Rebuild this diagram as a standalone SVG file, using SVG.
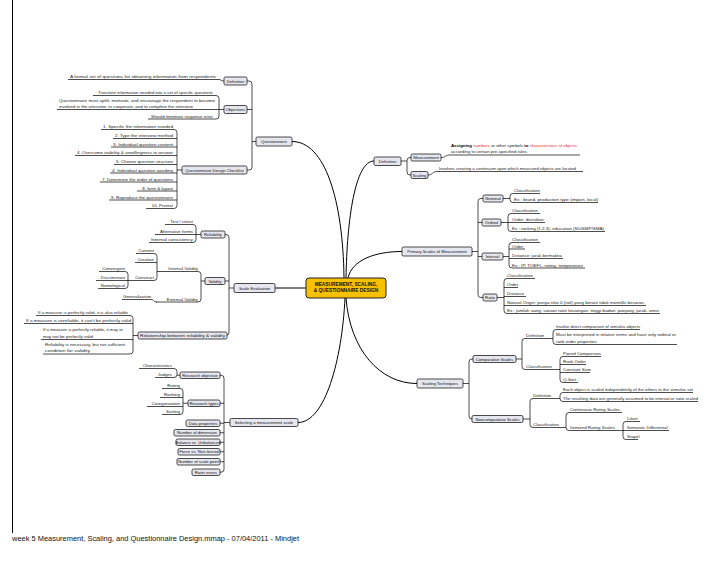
<svg xmlns="http://www.w3.org/2000/svg" width="728" height="563" viewBox="0 0 728 563">
<style>
.b{fill:#E6E6EF;stroke:#000;stroke-width:0.7}
.ct{fill:#F5C100;stroke:#222;stroke-width:1}
.t{font-family:"Liberation Sans",Arial,sans-serif;font-size:4.4px;fill:#222}
.bt{font-family:"Liberation Sans",Arial,sans-serif;font-size:4.2px;fill:#111;text-anchor:middle}
.e{text-anchor:end}
.r{fill:#E03030}
.k{font-weight:bold;fill:#000}
.c{fill:none;stroke:#000;stroke-width:0.7}
.m{fill:none;stroke:#000;stroke-width:1}
.ctt{font-family:"Liberation Sans",Arial,sans-serif;font-size:4.8px;font-weight:bold;fill:#111;text-anchor:middle}
.f{font-family:"Liberation Sans",Arial,sans-serif;font-size:7px;fill:#111}
</style>
<rect width="728" height="563" fill="#fff"/>
<line x1="12.5" y1="0" x2="12.5" y2="533" stroke="#000" stroke-width="1"/>
<text class="f" x="12" y="541" textLength="287" lengthAdjust="spacingAndGlyphs">week 5 Measurement, Scaling, and Questionnaire Design.mmap - 07/04/2011 - Mindjet</text>

<g id="connectors">
<!-- main -->
<path class="m" d="M292 141.5 C325 141.5 343 200 344 278"/>
<path class="m" d="M374 161 C355 161 347 220 346 278"/>
<path class="m" d="M402 251.5 C375 251.5 352 260 348 278"/>
<path class="m" d="M346 298 C350 350 380 383.5 417 383.5"/>
<path class="m" d="M298 422.5 C325 422.5 342 360 345 298"/>
<path class="m" d="M275 288 L306 288"/>
<!-- questionnaire -->
<path class="c" d="M247 81 L249 81 Q252 81 252 84 L252 167 Q252 170 249 170 L247 170 M247 109.5 L252 109.5 M252 141.5 L256 141.5"/>
<path class="c" d="M68 79.5 L219 79.5 C221 79.5 221 81 224 81"/>
<path class="c" d="M93 95.5 L216 95.5 Q219 95.5 219 98.5 L219 116 Q219 119 216 119 L148 119 M57 109.5 L224 109.5"/>
<path class="c" d="M101 129.5 L174 129.5 Q177 129.5 177 132.5 L177 205.5 Q177 208.5 174 208.5 L146 208.5 M113 138.5 L177 138.5 M111 147 L177 147 M75 155.5 L177 155.5 M114 164.5 L177 164.5 M110 173 L177 173 M100 182 L177 182 M137 191 L177 191 M109 200 L177 200 M177 170 L182 170"/>
<!-- scale evaluation -->
<path class="c" d="M225 234.5 L226 234.5 Q229 234.5 229 237.5 L229 332.5 Q229 335.5 226 335.5 M225 281 L229 281 M229 288 L234 288"/>
<path class="c" d="M165 224.5 L193 224.5 Q196 224.5 196 227.5 L196 239.5 Q196 242.5 193 242.5 L149 242.5 M155 234.5 L201 234.5"/>
<path class="c" d="M157 271.5 L198 271.5 Q201 271.5 201 274.5 L201 299 Q201 302 198 302 L156 302 M201 281 L205 281"/>
<path class="c" d="M136 253.5 L154 253.5 Q157 253.5 157 256.5 L157 277.5 Q157 280.5 154 280.5 L128 280.5 M135 262.5 L157 262.5"/>
<path class="c" d="M99 271.5 L125 271.5 Q128 271.5 128 274.5 L128 285.5 Q128 288.5 125 288.5 L98 288.5 M96 280.5 L128 280.5"/>
<path class="c" d="M122 299.5 L151 299.5 C154 299.5 153 302 157 302"/>
<path class="c" d="M36 315.5 L130 315.5 Q133 315.5 133 318.5 L133 351 Q133 354 130 354 L43 354 M24 323.5 L133 323.5 M41 339.5 L133 339.5 M133 335.5 L138 335.5"/>
<!-- selecting -->
<path class="c" d="M220 375.25 L221 375.25 Q224 375.25 224 378.25 L224 469.25 Q224 472.25 221 472.25 L220 472.25 M220 403.25 L224 403.25 M220 423.25 L224 423.25 M220 432.75 L224 432.75 M220 442.25 L224 442.25 M220 451.75 L224 451.75 M220 461.75 L224 461.75 M224 422.5 L230 422.5"/>
<path class="c" d="M139 368.5 L174 368.5 Q177 368.5 177 371.5 L177 374.5 Q177 377.5 174 377.5 L155 377.5 M177 375.25 L180 375.25"/>
<path class="c" d="M162 388.5 L180 388.5 Q183 388.5 183 391.5 L183 411.5 Q183 414.5 180 414.5 L162 414.5 M160 397.5 L183 397.5 M147 406.5 L183 406.5 M183 403.25 L188 403.25"/>
<!-- definition right -->
<path class="c" d="M401 161 L407 161 M411 157.5 L410 157.5 Q407 157.5 407 160.5 L407 172 Q407 175 410 175 L411 175"/>
<path class="c" d="M441 157.5 C446 157.5 445 155 450 155 L580 155"/>
<path class="c" d="M428 175 C433 175 432 171.5 437 171.5 L583 171.5"/>
<!-- primary scales -->
<path class="c" d="M472 251.5 L478 251.5 M483 198.5 L481 198.5 Q478 198.5 478 201.5 L478 294.5 Q478 297.5 481 297.5 L483 297.5 M478 222.5 L482 222.5 M478 256.5 L482 256.5"/>
<path class="c" d="M503 198.5 L510 198.5 M540 193.5 L513 193.5 Q510 193.5 510 196.5 L510 199.5 Q510 202.5 513 202.5 L598 202.5"/>
<path class="c" d="M501 222.5 L545 222.5 M540 213.5 L511 213.5 Q508 213.5 508 216.5 L508 228.5 Q508 231.5 511 231.5 L605 231.5"/>
<path class="c" d="M503 256.5 L509 256.5 M540 242.5 L512 242.5 Q509 242.5 509 245.5 L509 265 Q509 268 512 268 L585 268 M509 249 L525 249 M509 258.5 L563 258.5"/>
<path class="c" d="M497 297.5 L504 297.5 M535 278.5 L507 278.5 Q504 278.5 504 281.5 L504 310.5 Q504 313.5 507 313.5 L660 313.5 M504 287.5 L518 287.5 M504 296.5 L526 296.5 M504 305.5 L646 305.5"/>
<!-- scaling techniques -->
<path class="c" d="M463 383.5 L469 383.5 M473 359 L472 359 Q469 359 469 362 L469 416 Q469 419 472 419"/>
<path class="c" d="M516 359 L522 359 M553 338.5 L525 338.5 Q522 338.5 522 341.5 L522 366.5 Q522 369.5 525 369.5 L560 369.5"/>
<path class="c" d="M640 329.5 L556 329.5 Q553 329.5 553 332.5 L553 341.5 Q553 344.5 556 344.5 L677 344.5"/>
<path class="c" d="M601 356.5 L563 356.5 Q560 356.5 560 359.5 L560 379.5 Q560 382.5 563 382.5 L578 382.5 M560 364.5 L586 364.5 M560 372.5 L590 372.5"/>
<path class="c" d="M523 419 L530 419 M560 398.5 L533 398.5 Q530 398.5 530 401.5 L530 424.5 Q530 427.5 533 427.5 L566 427.5"/>
<path class="c" d="M693 392.5 L563 392.5 Q560 392.5 560 395.5 L560 398.5 Q560 401.5 563 401.5 L698 401.5"/>
<path class="c" d="M622 412.5 L569 412.5 Q566 412.5 566 415.5 L566 427.5 Q566 430.5 569 430.5 L669 430.5"/>
<path class="c" d="M640 421.5 L626 421.5 Q623 421.5 623 424.5 L623 436.5 Q623 439.5 626 439.5 L638 439.5"/>
</g>

<g id="central">
<rect class="ct" x="306" y="278" width="80" height="20" rx="3"/>
<text class="ctt" x="346" y="286">MEASUREMENT, SCALING,</text>
<text class="ctt" x="346" y="292">&amp; QUESTIONNAIRE DESIGN</text>
</g>

<g id="questionnaire">
<rect class="b" x="256" y="137" width="36" height="9" rx="1.5"/><text class="bt" x="274" y="143">Questionnaire</text>
</g>
<g id="q-definition">
<rect class="b" x="224" y="77" width="23" height="8" rx="1.5"/><text class="bt" x="235.5" y="82.5">Definition</text>
<text class="t e" x="216" y="78" textLength="146" lengthAdjust="spacingAndGlyphs">A formal set of questions for obtaining information from respondents</text>
</g>
<g id="q-objectives">
<rect class="b" x="224" y="105.5" width="23" height="8" rx="1.5"/><text class="bt" x="235.5" y="111">Objectives</text>
<text class="t e" x="213" y="94" textLength="115" lengthAdjust="spacingAndGlyphs">Translate information needed into a set of specific questions</text>
<text class="t" x="59" y="101.5" textLength="156" lengthAdjust="spacingAndGlyphs">Questionnaire must uplift, motivate, and encourage the respondent to become</text>
<text class="t" x="59" y="108" textLength="134" lengthAdjust="spacingAndGlyphs">involved in the interview, to cooperate, and to complete the interview</text>
<text class="t e" x="213" y="117.5" textLength="62" lengthAdjust="spacingAndGlyphs">Should minimize response error</text>
</g>
<g id="q-checklist">
<rect class="b" x="182" y="166" width="65" height="8" rx="1.5"/><text class="bt" x="214.5" y="171.5">Questionnaire Design Checklist</text>
<text class="t e" x="173" y="128" textLength="70" lengthAdjust="spacingAndGlyphs">1. Specific the information needed</text>
<text class="t e" x="173" y="137" textLength="58" lengthAdjust="spacingAndGlyphs">2. Type the interview method</text>
<text class="t e" x="173" y="145.5" textLength="60" lengthAdjust="spacingAndGlyphs">3. Individual question content</text>
<text class="t e" x="173" y="154" textLength="96" lengthAdjust="spacingAndGlyphs">4. Overcome inability &amp; unwillingness to answer</text>
<text class="t e" x="173" y="163" textLength="57" lengthAdjust="spacingAndGlyphs">5. Choose question structure</text>
<text class="t e" x="173" y="171.5" textLength="61" lengthAdjust="spacingAndGlyphs">4. Individual question wording</text>
<text class="t e" x="173" y="180.5" textLength="71" lengthAdjust="spacingAndGlyphs">7. Determine the order of questions</text>
<text class="t e" x="173" y="189.5">8. form &amp; layout</text>
<text class="t e" x="173" y="198.5" textLength="62" lengthAdjust="spacingAndGlyphs">9. Reproduce the questionnaire</text>
<text class="t e" x="173" y="207">10. Pretest</text>
</g>

<g id="scale-evaluation">
<rect class="b" x="234" y="283.5" width="41" height="9" rx="1.5"/><text class="bt" x="254.5" y="289.5">Scale Evaluation</text>
</g>
<g id="reliability">
<rect class="b" x="201" y="231" width="24" height="7" rx="1.5"/><text class="bt" x="213" y="236">Reliability</text>
<text class="t e" x="193" y="223">Test / retest</text>
<text class="t e" x="193" y="233">Alternative forms</text>
<text class="t e" x="193" y="241" textLength="42" lengthAdjust="spacingAndGlyphs">Internal consistency</text>
</g>
<g id="validity">
<rect class="b" x="205" y="277.5" width="20" height="7" rx="1.5"/><text class="bt" x="215" y="282.5">Validity</text>
<text class="t e" x="198" y="270">Internal Validity</text>
<text class="t e" x="198" y="300.5">External Validity</text>
<text class="t e" x="154" y="252">Content</text>
<text class="t e" x="154" y="261">Creation</text>
<text class="t e" x="154" y="279">Construct</text>
<text class="t e" x="125" y="270">Convergent</text>
<text class="t e" x="125" y="279">Discriminant</text>
<text class="t e" x="125" y="287">Nomological</text>
<text class="t" x="123" y="298">Generalization</text>
</g>
<g id="relationship">
<rect class="b" x="138" y="332" width="89" height="7" rx="1.5"/><text class="bt" x="182.5" y="337" textLength="85" lengthAdjust="spacingAndGlyphs">Relationship between reliability &amp; validity</text>
<text class="t e" x="128" y="314" textLength="90" lengthAdjust="spacingAndGlyphs">If a measure is perfectly valid, it is also reliable</text>
<text class="t e" x="131" y="322" textLength="105" lengthAdjust="spacingAndGlyphs">If a measure is unreliable, it can't be perfectly valid</text>
<text class="t" x="43" y="331" textLength="80" lengthAdjust="spacingAndGlyphs">If a measure is perfectly reliable, it may or</text>
<text class="t" x="43" y="337.5" textLength="50" lengthAdjust="spacingAndGlyphs">may not be perfectly valid</text>
<text class="t" x="45" y="345.5" textLength="80" lengthAdjust="spacingAndGlyphs">Reliability is necessary, but not sufficient</text>
<text class="t" x="45" y="352" textLength="45" lengthAdjust="spacingAndGlyphs">condition for validity</text>
</g>

<g id="selecting">
<rect class="b" x="230" y="418.5" width="68" height="8" rx="1.5"/><text class="bt" x="264" y="424">Selecting a measurement scale</text>
</g>
<g id="research-objective">
<rect class="b" x="180" y="372" width="40" height="6.5" rx="1.5"/><text class="bt" x="200" y="376.8">Research objective</text>
<text class="t e" x="172" y="367">Characteristics</text>
<text class="t e" x="172" y="376">Judges</text>
</g>
<g id="research-types">
<rect class="b" x="188" y="400" width="32" height="6.5" rx="1.5"/><text class="bt" x="204" y="404.8">Research types</text>
<text class="t e" x="180" y="387">Rating</text>
<text class="t e" x="180" y="396">Ranking</text>
<text class="t e" x="180" y="405">Categorization</text>
<text class="t e" x="180" y="413">Sorting</text>
</g>
<g id="data-properties"><rect class="b" x="186" y="420" width="34" height="6.5" rx="1.5"/><text class="bt" x="203" y="424.8">Data properties</text></g>
<g id="number-dimension"><rect class="b" x="174" y="429.5" width="46" height="6.5" rx="1.5"/><text class="bt" x="197" y="434.3">Number of dimension</text></g>
<g id="balance"><rect class="b" x="176" y="439" width="44" height="6.5" rx="1.5"/><text class="bt" x="198" y="443.8">Balance vs. Unbalanced</text></g>
<g id="force"><rect class="b" x="178" y="448.5" width="42" height="6.5" rx="1.5"/><text class="bt" x="199" y="453.3">Force vs. Non-forced</text></g>
<g id="scale-point"><rect class="b" x="177" y="458.5" width="43" height="6.5" rx="1.5"/><text class="bt" x="198.5" y="463.3">Number of scale point</text></g>
<g id="rater-errors"><rect class="b" x="192" y="469" width="28" height="6.5" rx="1.5"/><text class="bt" x="206" y="473.8">Rater errors</text></g>

<g id="definition">
<rect class="b" x="374" y="157" width="27" height="8.5" rx="1.5"/><text class="bt" x="387.5" y="162.7">Definition</text>
</g>
<g id="measurement">
<rect class="b" x="411" y="154" width="30" height="7" rx="1.5"/><text class="bt" x="426" y="159">Measurement</text>
<text class="t" x="451" y="147" textLength="126" lengthAdjust="spacingAndGlyphs"><tspan class="k">Assigning</tspan> <tspan class="r">numbers</tspan> or other symbols <tspan class="k">to</tspan> <tspan class="r">characteristics of objects</tspan></text>
<text class="t" x="451" y="152.5" textLength="76" lengthAdjust="spacingAndGlyphs">according to certain pre-specified rules</text>
</g>
<g id="scaling">
<rect class="b" x="411" y="171.5" width="17" height="7" rx="1.5"/><text class="bt" x="419.5" y="176.5">Scaling</text>
<text class="t" x="439" y="169.5" textLength="137" lengthAdjust="spacingAndGlyphs">Involves creating a continuum upon which measured objects are located</text>
</g>

<g id="primary-scales">
<rect class="b" x="402" y="247" width="70" height="9" rx="1.5"/><text class="bt" x="437" y="253">Primary Scales of Measurement</text>
</g>
<g id="nominal">
<rect class="b" x="483" y="195" width="20" height="7" rx="1.5"/><text class="bt" x="493" y="200">Nominal</text>
<text class="t" x="514" y="192">Classification</text>
<text class="t" x="514" y="201" textLength="84" lengthAdjust="spacingAndGlyphs">Ex.: brand, production type (import, local)</text>
</g>
<g id="ordinal">
<rect class="b" x="482" y="219" width="19" height="7" rx="1.5"/><text class="bt" x="491.5" y="224">Ordinal</text>
<text class="t" x="512" y="212">Classification</text>
<text class="t" x="512" y="221">Order: diurutkan</text>
<text class="t" x="512" y="230" textLength="92" lengthAdjust="spacingAndGlyphs">Ex.: ranking (1,2,3), education (SD/SMP/SMA)</text>
</g>
<g id="interval">
<rect class="b" x="482" y="253" width="21" height="7" rx="1.5"/><text class="bt" x="492.5" y="258">Interval</text>
<text class="t" x="512" y="241">Classification</text>
<text class="t" x="512" y="247.5">Order</text>
<text class="t" x="512" y="257" textLength="50" lengthAdjust="spacingAndGlyphs">Distance: jarak bermakna</text>
<text class="t" x="512" y="266.5" textLength="71" lengthAdjust="spacingAndGlyphs">Ex.: IP, TOEFL, rating, temperature</text>
</g>
<g id="ratio">
<rect class="b" x="483" y="294" width="14" height="7" rx="1.5"/><text class="bt" x="490" y="299">Ratio</text>
<text class="t" x="507" y="277">Classification</text>
<text class="t" x="507" y="286">Order</text>
<text class="t" x="507" y="295">Distance</text>
<text class="t" x="507" y="304" textLength="138" lengthAdjust="spacingAndGlyphs">Natural Origin: punya nilai 0 (nol) yang berarti tidak memiliki besaran.</text>
<text class="t" x="507" y="312" textLength="152" lengthAdjust="spacingAndGlyphs">Ex.: jumlah uang, satuan ratio keuangan, tinggi badan, panjang, jarak, umur</text>
</g>

<g id="scaling-techniques">
<rect class="b" x="417" y="379" width="46" height="9" rx="1.5"/><text class="bt" x="440" y="385">Scaling Techniques</text>
</g>
<g id="comparative">
<rect class="b" x="473" y="355.5" width="43" height="7" rx="1.5"/><text class="bt" x="494.5" y="360.5">Comparative Scales</text>
<text class="t" x="526" y="337">Definition</text>
<text class="t" x="526" y="368">Classification</text>
<text class="t" x="556" y="328" textLength="84" lengthAdjust="spacingAndGlyphs">Involve direct comparison of stimulus objects</text>
<text class="t" x="556" y="336" textLength="120" lengthAdjust="spacingAndGlyphs">Must be interpreted in relative terms and have only ordinal or</text>
<text class="t" x="556" y="342.5">rank order properties</text>
<text class="t" x="563" y="355">Paired Comparison</text>
<text class="t" x="563" y="363">Rank Order</text>
<text class="t" x="563" y="371">Constant Sum</text>
<text class="t" x="563" y="381">Q-Sort</text>
</g>
<g id="noncomparative">
<rect class="b" x="472" y="415.5" width="51" height="7" rx="1.5"/><text class="bt" x="497.5" y="420.5">Noncomparative Scales</text>
<text class="t" x="533" y="397">Definition</text>
<text class="t" x="533" y="426">Classification</text>
<text class="t" x="563" y="391" textLength="130" lengthAdjust="spacingAndGlyphs">Each object is scaled independently of the others in the stimulus set</text>
<text class="t" x="563" y="400" textLength="135" lengthAdjust="spacingAndGlyphs">The resulting data are generally assumed to be interval or ratio scaled</text>
<text class="t" x="570" y="411" textLength="50" lengthAdjust="spacingAndGlyphs">Continuous Rating Scales</text>
<text class="t" x="570" y="429">Itemized Rating Scales</text>
<text class="t" x="627" y="420">Likert</text>
<text class="t" x="627" y="429">Semantic Differential</text>
<text class="t" x="627" y="438">Stapel</text>
</g>
</svg>
